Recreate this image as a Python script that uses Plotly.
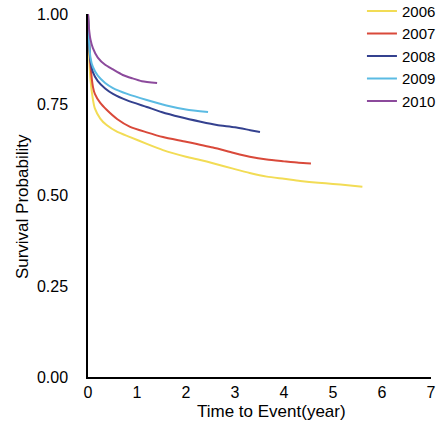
import plotly.graph_objects as go

years = ["2006", "2007", "2008", "2009", "2010"]

t_2006 = [0, 0.02, 0.05, 0.1, 0.14, 0.25, 0.38, 0.6, 0.86, 1.2, 1.53, 2.0, 2.29, 2.55, 2.96, 3.3, 3.65, 4.0, 4.33, 4.7, 5.0, 5.3, 5.6]
s_2006 = [1.0, 0.90, 0.82, 0.765, 0.74, 0.712, 0.694, 0.675, 0.661, 0.642, 0.625, 0.607, 0.598, 0.589, 0.574, 0.562, 0.552, 0.546, 0.54, 0.535, 0.532, 0.528, 0.524]

t_2007 = [0, 0.02, 0.05, 0.1, 0.14, 0.25, 0.38, 0.6, 0.86, 1.2, 1.53, 2.0, 2.55, 2.96, 3.3, 3.65, 4.0, 4.3, 4.55]
s_2007 = [1.0, 0.93, 0.86, 0.80, 0.78, 0.755, 0.736, 0.71, 0.689, 0.674, 0.661, 0.648, 0.632, 0.618, 0.607, 0.599, 0.594, 0.59, 0.588]

t_2008 = [0, 0.02, 0.05, 0.1, 0.2, 0.35, 0.51, 0.8, 1.2, 1.5, 1.88, 2.3, 2.63, 3.0, 3.31, 3.51]
s_2008 = [1.0, 0.93, 0.87, 0.84, 0.815, 0.795, 0.78, 0.762, 0.744, 0.73, 0.716, 0.703, 0.694, 0.688, 0.68, 0.675]

t_2009 = [0, 0.02, 0.05, 0.1, 0.2, 0.35, 0.51, 0.8, 1.2, 1.6, 2.0, 2.45]
s_2009 = [1.0, 0.93, 0.88, 0.854, 0.83, 0.81, 0.796, 0.78, 0.763, 0.748, 0.737, 0.73]

t_2010 = [0, 0.02, 0.05, 0.1, 0.2, 0.35, 0.5, 0.71, 0.9, 1.1, 1.41]
s_2010 = [1.0, 0.96, 0.93, 0.906, 0.88, 0.86, 0.848, 0.832, 0.823, 0.815, 0.81]

x_ticks = [0, 1, 2, 3, 4, 5, 6, 7]
y_ticks = [0.0, 0.25, 0.5, 0.75, 1.0]
y_tick_labels = ["0.00", "0.25", "0.50", "0.75", "1.00"]

x_title = "Time to Event(year)"
y_title = "Survival Probability"

colors = ["#f2dc55", "#d9493a", "#34418f", "#5bbbe3", "#8c4a9c"]

series = [(t_2006, s_2006), (t_2007, s_2007), (t_2008, s_2008), (t_2009, s_2009), (t_2010, s_2010)]

FONT = "Liberation Sans, Arial, sans-serif"

fig = go.Figure()
for name, (t, s), c in zip(years, series, colors):
    fig.add_trace(go.Scatter(x=t, y=s, mode="lines", name=name,
                             line=dict(color=c, width=2, shape="spline", smoothing=0.6)))

fig.update_layout(
    width=438, height=423,
    margin=dict(l=88, r=7, t=14, b=46, autoexpand=False),
    paper_bgcolor="white", plot_bgcolor="white",
    font=dict(family=FONT, size=16, color="black"),
    showlegend=True,
    legend=dict(x=1.029, xanchor="right", y=1.053, yanchor="top",
                bgcolor="rgba(0,0,0,0)", font=dict(size=15),
                itemwidth=30, tracegroupgap=0),
    xaxis=dict(range=[0, 7], tickvals=x_ticks, showgrid=False, zeroline=False,
               showline=True, linecolor="black", linewidth=1.5, ticks="",
               ticklabelstandoff=0, automargin=False, tickfont=dict(size=16)),
    yaxis=dict(range=[0, 1], tickvals=y_ticks, ticktext=y_tick_labels, showgrid=False,
               zeroline=False, showline=True, linecolor="black", linewidth=1.5, ticks="",
               ticklabelstandoff=15, automargin=False, tickfont=dict(size=16)),
    annotations=[
        dict(text=x_title, xref="paper", yref="paper", x=0.536, y=-0.0937,
             xanchor="center", yanchor="middle", showarrow=False, font=dict(size=17)),
        dict(text=y_title, xref="paper", yref="paper", x=-0.1924, y=0.468,
             xanchor="center", yanchor="middle", showarrow=False, textangle=-90,
             font=dict(size=17)),
    ],
)

fig.write_html("out.html", config={"displayModeBar": False},
               post_script="document.body.style.margin='0';document.body.style.overflow='hidden';")
